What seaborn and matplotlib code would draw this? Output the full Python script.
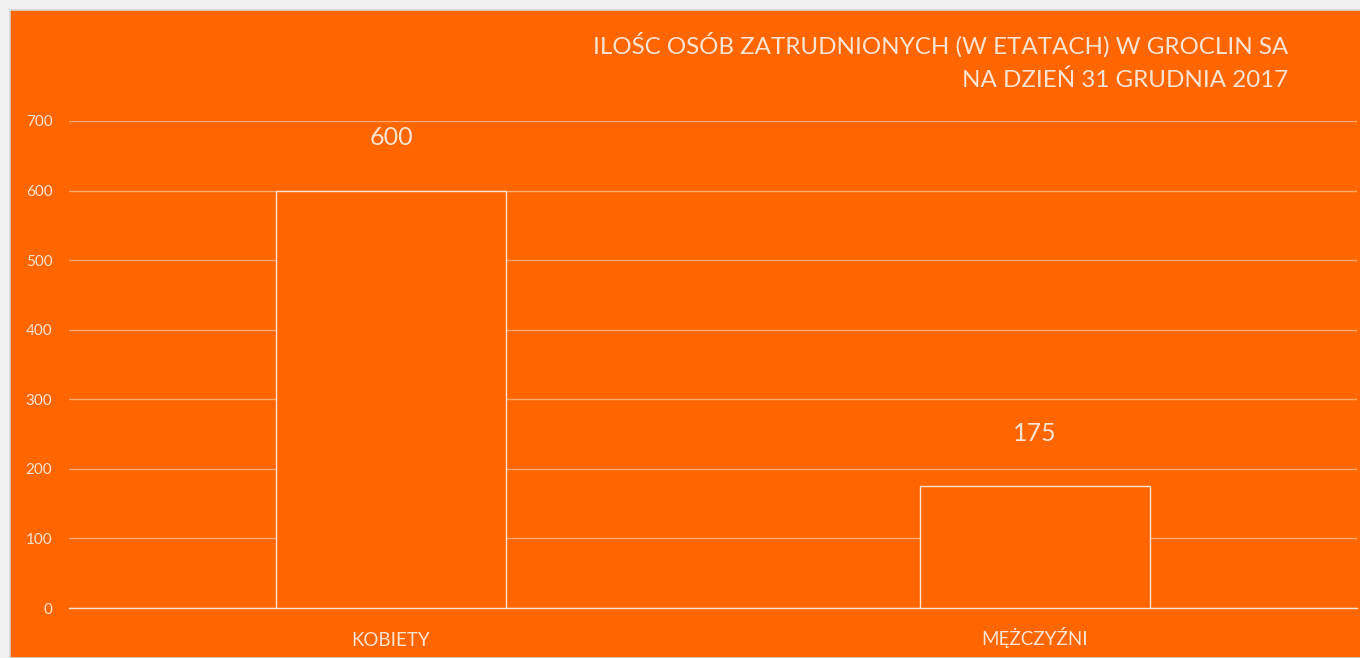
import matplotlib
matplotlib.use("Agg")
import matplotlib.pyplot as plt
import seaborn as sns
import pandas as pd
from matplotlib.patches import Rectangle

orange = "#FF6600"
light = "#FBE3D2"
grid_c = "#FCA870"

categories = ["KOBIETY", "MĘŻCZYŹNI"]
values = [600, 175]
yticks = [0, 100, 200, 300, 400, 500, 600, 700]
title_lines = ["ILOŚC OSÓB ZATRUDNIONYCH (W ETATACH) W GROCLIN SA",
               "NA DZIEŃ 31 GRUDNIA 2017"]

sns.set_theme(style="white")
plt.rcParams['font.family'] = ['Lato', 'DejaVu Sans']

df = pd.DataFrame({"kategoria": categories, "wartosc": values})

fig = plt.figure(figsize=(13.6, 6.58), dpi=100)
fig.patch.set_facecolor("#F0F0F0")
bg = Rectangle((10 / 1360, 0), 1, 1 - 10 / 658, transform=fig.transFigure,
               facecolor=orange, edgecolor="#D6D6D6", linewidth=1.2, zorder=-10)
fig.patches.append(bg)

ax = fig.add_axes([69 / 1360, 1 - 608 / 658, (1357 - 69) / 1360, (608 - 121) / 658])
ax.set_zorder(1)
sns.barplot(data=df, x="kategoria", y="wartosc", color=orange, width=0.356,
            edgecolor=light, linewidth=1.0, saturation=1, ax=ax, zorder=3)

ax.set_xlim(-0.5, 1.5)
ax.set_ylim(0, 700)
ax.set_yticks(yticks)
ax.yaxis.grid(True, color=grid_c, linewidth=1.0, zorder=0)
ax.set_axisbelow(True)
for s in ["top", "right", "left"]:
    ax.spines[s].set_visible(False)
ax.spines["bottom"].set_color(light)
ax.spines["bottom"].set_linewidth(1.0)
ax.tick_params(axis="y", colors=light, labelsize=11, length=0, pad=12)
ax.tick_params(axis="x", colors=light, labelsize=13.5, length=0, pad=27)
for lab in ax.get_xticklabels():
    lab.set_verticalalignment("baseline")
ax.set_xlabel("")
ax.set_ylabel("")

for i, v in enumerate(values):
    ax.annotate(str(v), (i, v), xytext=(0, 38), textcoords="offset points",
                ha="center", va="center", fontsize=18, color=light)
ax.patch.set_visible(False)

fig.text(1288 / 1360, 1 - 45 / 658, title_lines[0], ha="right", va="center",
         fontsize=17.4, color=light)
fig.text(1288 / 1360, 1 - 80 / 658, title_lines[1], ha="right", va="center",
         fontsize=17.4, color=light)

fig.savefig("out.png", dpi=100, facecolor=fig.get_facecolor())
